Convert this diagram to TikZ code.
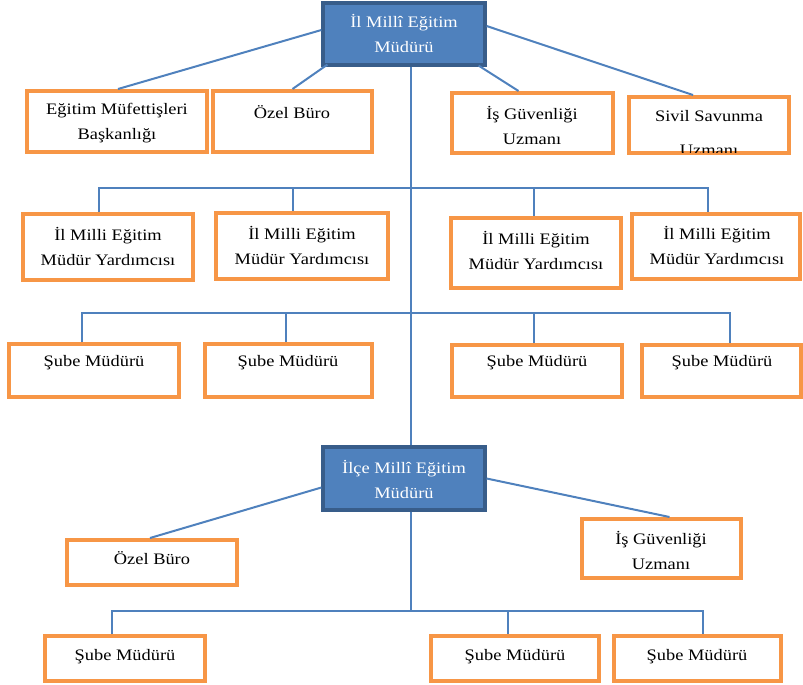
\documentclass[tikz,border=0pt]{standalone}
\usepackage{fontspec}
\setmainfont{Liberation Serif}[FakeStretch=1.15]
\usetikzlibrary{fit,calc}
\definecolor{orangeB}{HTML}{F79646}
\definecolor{blueL}{HTML}{4F81BD}
\definecolor{blueF}{HTML}{4F81BD}
\definecolor{blueD}{HTML}{385D8A}
\tikzset{
  obox/.style={draw=orangeB, line width=3pt, inner sep=0pt},
  bbox/.style={draw=blueD, fill=blueF, line width=2.4pt, inner sep=0pt},
  conn/.style={draw=blueL, line width=1.5pt},
  lbl/.style={align=center, font=\fontsize{12}{18.75}\selectfont, inner sep=0pt},
  wlbl/.style={lbl, text=white}
}
\begin{document}
\begin{tikzpicture}[x=0.75pt, y=-0.75pt]
\useasboundingbox (0,0) rectangle (803,685);
% boxes
\node[bbox, fit={(323,3) (485,65)}] (t) {};
\node[obox, fit={(27,91) (207,152)}] (emb) {};
\node[obox, fit={(213,91) (372,152)}] (ozb) {};
\node[obox, fit={(452,93) (613,153)}] (isg) {};
\node[obox, fit={(629,97) (789,153)}] (svs) {};
\node[obox, fit={(23,214) (193,280)}] (ya) {};
\node[obox, fit={(216,213) (388,279)}] (yb) {};
\node[obox, fit={(451,218) (621,288)}] (yc) {};
\node[obox, fit={(632,214) (800,279)}] (yd) {};
\node[obox, fit={(9,344) (179,397)}] (s1) {};
\node[obox, fit={(205,344) (372,397)}] (s2) {};
\node[obox, fit={(452,345) (622,397)}] (s3) {};
\node[obox, fit={(642,345) (801,397)}] (s4) {};
\node[bbox, fit={(323,447) (485,510)}] (i) {};
\node[obox, fit={(67,540) (237,585)}] (io) {};
\node[obox, fit={(582,519) (741,578)}] (ii) {};
\node[obox, fit={(45,636) (205,681)}] (b1) {};
\node[obox, fit={(431,636) (599,681)}] (b2) {};
\node[obox, fit={(614,636) (781,681)}] (b3) {};
% labels
\node[wlbl] (tt) at (404,33) {İl Millî Eğitim\\Müdürü};
\node[lbl] (embt) at (117,123) {Eğitim Müfettişleri\\Başkanlığı};
\node[lbl] (ozbt) at (292,112) {Özel Büro};
\node[lbl] (isgt) at (532,125) {İş Güvenliği\\Uzmanı};
\begin{scope}
\clip (631,99) rectangle (787,152);
\node[lbl] (svst) at (709,133) {Sivil Savunma\\[7pt]Uzmanı};
\end{scope}
\node[lbl] (yat) at (108,246) {İl Milli Eğitim\\Müdür Yardımcısı};
\node[lbl] (ybt) at (302,245) {İl Milli Eğitim\\Müdür Yardımcısı};
\node[lbl] (yct) at (536,250) {İl Milli Eğitim\\Müdür Yardımcısı};
\node[lbl] (ydt) at (717,245) {İl Milli Eğitim\\Müdür Yardımcısı};
\node[lbl] (s1t) at (94,363) {Şube Müdürü};
\node[lbl] (s2t) at (288,363) {Şube Müdürü};
\node[lbl] (s3t) at (537,363) {Şube Müdürü};
\node[lbl] (s4t) at (722,363) {Şube Müdürü};
\node[wlbl] (it) at (404,479) {İlçe Millî Eğitim\\Müdürü};
\node[lbl] (iot) at (152,558) {Özel Büro};
\node[lbl] (iit) at (661,550) {İş Güvenliği\\Uzmanı};
\node[lbl] (b1t) at (125,657) {Şube Müdürü};
\node[lbl] (b2t) at (515,657) {Şube Müdürü};
\node[lbl] (b3t) at (697,657) {Şube Müdürü};
% connectors top
\draw[conn] ($(t.west)+(0,-4)$) -- ($(emb.north)+(1,0)$);
\draw[conn] ($(t.south west)+(6,-2)$) -- (ozb.north);
\draw[conn] ($(t.south east)+(-8,-1)$) -- ($(isg.north)+(-14,0)$);
\draw[conn] ($(t.east)+(0,-8)$) -- ($(svs.north)+(-16,0)$);
\draw[conn] ($(t.south)+(7,0)$) -- ($(i.north)+(7,0)$);
% row 2
\coordinate (r2L) at (99,188);
\coordinate (r2R) at (708,188);
\coordinate (r2b) at (293,188);
\coordinate (r2c) at (534,188);
\draw[conn] (r2L |- ya.north) -- (r2L) -- (r2R) -- (r2R |- yd.north);
\draw[conn] (r2b) -- (r2b |- yb.north);
\draw[conn] (r2c) -- (r2c |- yc.north);
% row 3
\coordinate (r3L) at (82,313);
\coordinate (r3R) at (730,313);
\coordinate (r3b) at (286,313);
\coordinate (r3c) at (534,313);
\draw[conn] (r3L |- s1.north) -- (r3L) -- (r3R) -- (r3R |- s4.north);
\draw[conn] (r3b) -- (r3b |- s2.north);
\draw[conn] (r3c) -- (r3c |- s3.north);
% ilce
\draw[conn] ($(i.west)+(0,9)$) -- ($(io.north)+(-2,0)$);
\draw[conn] (i.east) -- ($(ii.north)+(8,0)$);
\coordinate (r4L) at (112,611);
\coordinate (r4R) at (703,611);
\coordinate (r4b) at (508,611);
\coordinate (r4t) at (411,611);
\draw[conn] ($(i.south)+(7,0)$) -- (r4t);
\draw[conn] (r4L |- b1.north) -- (r4L) -- (r4R) -- (r4R |- b3.north);
\draw[conn] (r4b) -- (r4b |- b2.north);
\end{tikzpicture}
\end{document}
